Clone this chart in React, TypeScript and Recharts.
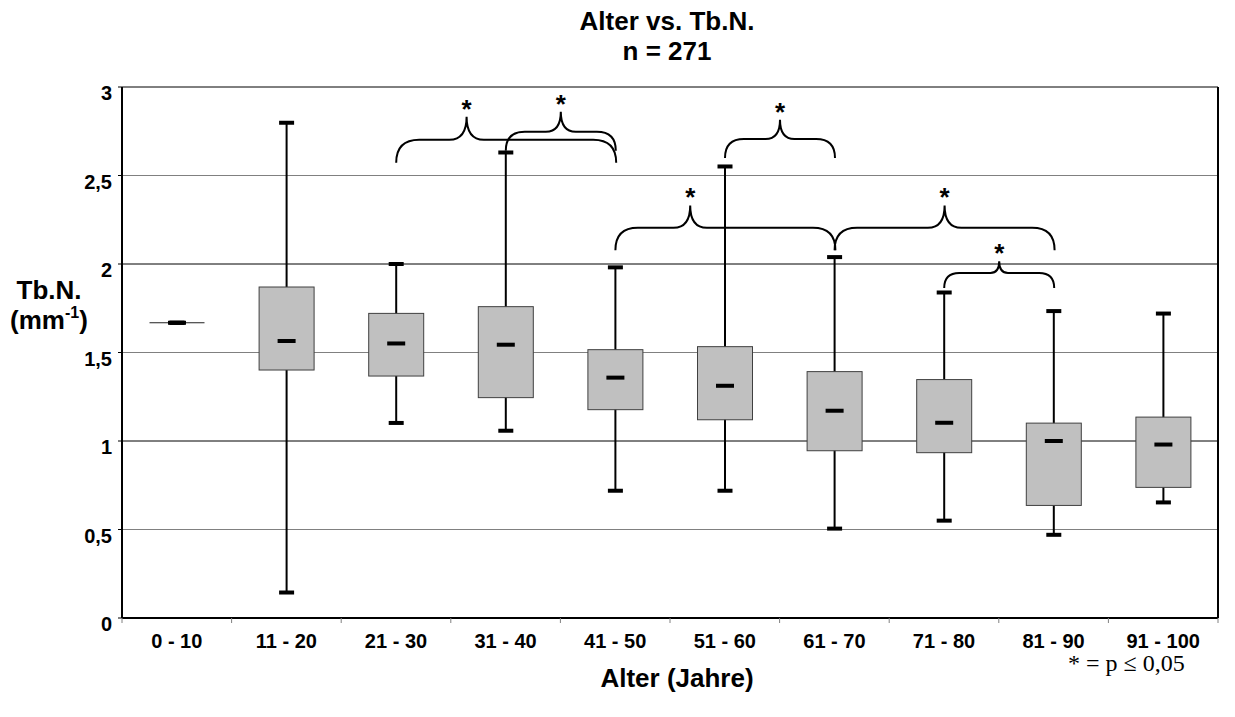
import React from 'react';
import { ComposedChart, Bar, XAxis, YAxis, CartesianGrid } from 'recharts';

// ─── Data ─────────────────────────────────────────────────────────────────────

const groups = ['0 - 10', '11 - 20', '21 - 30', '31 - 40', '41 - 50', '51 - 60', '61 - 70', '71 - 80', '81 - 90', '91 - 100'];
const mins    = [1.668, 0.144, 1.102, 1.058, 0.719, 0.719, 0.505, 0.55, 0.47, 0.653];
const q1s     = [1.668, 1.401, 1.367, 1.245, 1.177, 1.12, 0.945, 0.934, 0.636, 0.738];
const medians = [1.668, 1.565, 1.551, 1.544, 1.358, 1.312, 1.171, 1.103, 1.0, 0.98];
const q3s     = [1.668, 1.87, 1.721, 1.759, 1.516, 1.533, 1.392, 1.347, 1.101, 1.135];
const maxs    = [1.668, 2.798, 2.0, 2.63, 1.981, 2.551, 2.039, 1.839, 1.734, 1.72];

const yTicks = [0, 0.5, 1, 1.5, 2, 2.5, 3];

// significance braces: end = tips of the brace, level = its bar, peak = its point
const brackets = [
  { from: '21 - 30', to: '41 - 50', end: 2.572, level: 2.702, peak: 2.832, peakAt: 0.32 },
  { from: '31 - 40', to: '41 - 50', end: 2.64, level: 2.747, peak: 2.86, peakAt: 0.5 },
  { from: '51 - 60', to: '61 - 70', end: 2.599, level: 2.706, peak: 2.815, peakAt: 0.5 },
  { from: '41 - 50', to: '61 - 70', end: 2.078, level: 2.205, peak: 2.331, peakAt: 0.34 },
  { from: '61 - 70', to: '81 - 90', end: 2.078, level: 2.205, peak: 2.331, peakAt: 0.5 },
  { from: '71 - 80', to: '81 - 90', end: 1.864, level: 1.949, peak: 2.015, peakAt: 0.5 },
];

const data = groups.map((group, i) => ({
  group,
  min: mins[i],
  q1: q1s[i],
  median: medians[i],
  q3: q3s[i],
  max: maxs[i],
  span: [mins[i], maxs[i]],
}));

const SANS = '"Liberation Sans", Arial, sans-serif';
const SERIF = '"Liberation Serif", "Times New Roman", serif';

// ─── Box + braces drawn per category ──────────────────────────────────────────

function BoxShape(props: any) {
  const { x, y, width, height, payload } = props;
  const { min, q1, median, q3, max, group } = payload;
  const px = (v: number) => (height > 0 ? y + ((max - v) / (max - min)) * height : y);
  const cx = x + width / 2;
  const bw = width * 0.5;
  const capW = 15;
  const medW = 18;
  const from = groups.indexOf(group);

  return (
    <g>
      <line x1={cx} y1={px(max)} x2={cx} y2={px(min)} stroke="#000" strokeWidth={2} />
      <rect x={cx - capW / 2} y={px(max) - 2} width={capW} height={4} fill="#000" />
      <rect x={cx - capW / 2} y={px(min) - 2} width={capW} height={4} fill="#000" />
      {q3 > q1 ? (
        <rect x={cx - bw / 2} y={px(q3)} width={bw} height={px(q1) - px(q3)} fill="#C0C0C0" stroke="#404040" strokeWidth={1} />
      ) : (
        <line x1={cx - bw / 2} y1={px(q1)} x2={cx + bw / 2} y2={px(q1)} stroke="#202020" strokeWidth={1} />
      )}
      <rect x={cx - medW / 2} y={px(median) - 2} width={medW} height={4} fill="#000" />

      {brackets.filter(b => b.from === group).map((b, k) => {
        const xL = cx;
        const xR = cx + (groups.indexOf(b.to) - from) * width;
        const xP = xL + (xR - xL) * b.peakAt;
        const yE = px(b.end);
        const yM = px(b.level);
        const yP = px(b.peak);
        const r = yE - yM;
        const pw = (yM - yP) * 0.75;
        const d = [
          `M${xL},${yE}`,
          `Q${xL},${yM} ${xL + r},${yM}`,
          `L${xP - pw},${yM}`,
          `Q${xP},${yM} ${xP},${yP}`,
          `Q${xP},${yM} ${xP + pw},${yM}`,
          `L${xR - r},${yM}`,
          `Q${xR},${yM} ${xR},${yE}`,
        ].join(' ');
        return (
          <g key={k}>
            <path d={d} fill="none" stroke="#000" strokeWidth={2} />
            <text x={xP} y={yP + 1} textAnchor="middle" fontFamily={SANS} fontWeight="bold" fontSize={26} fill="#000">*</text>
          </g>
        );
      })}
    </g>
  );
}

// ─── Axis ticks and title ─────────────────────────────────────────────────────

function XTick(props: any) {
  const { x, y, payload, index, visibleTicksCount } = props;
  const half = payload?.offset ?? 0;
  const axisY = y - 7;
  return (
    <g>
      {half > 0 && <line x1={x - half} y1={axisY} x2={x - half} y2={axisY + 5} stroke="#808080" />}
      {half > 0 && index === visibleTicksCount - 1 && (
        <line x1={x + half} y1={axisY} x2={x + half} y2={axisY + 5} stroke="#808080" />
      )}
      <text x={x} y={y} dy={23} textAnchor="middle" fontFamily={SANS} fontWeight="bold" fontSize={20} fill="#000">
        {payload.value}
      </text>
    </g>
  );
}

function YTick(props: any) {
  const { x, y, payload } = props;
  return (
    <text x={x} y={y} dy={13} textAnchor="end" fontFamily={SANS} fontWeight="bold" fontSize={20} fill="#000">
      {String(payload.value).replace('.', ',')}
    </text>
  );
}

function YTitle(props: any) {
  const vb = props.viewBox ?? { x: 0, y: 87, width: 122, height: 531 };
  const cx = vb.x + 49;
  const cy = vb.y + vb.height / 2;
  return (
    <g fontFamily={SANS} fontWeight="bold" fontSize={26} fill="#000">
      <text x={cx} y={cy - 54} textAnchor="middle">Tb.N.</text>
      <text x={cx} y={cy - 24} textAnchor="middle">
        (mm<tspan dy={-11} fontSize={16}>-1</tspan><tspan dy={11}>)</tspan>
      </text>
    </g>
  );
}

function GridLine(p: any) {
  return (
    <line
      key={`h-${p.index}`}
      x1={p.x1}
      y1={p.y1}
      x2={p.x2}
      y2={p.y2}
      stroke={p.index % 2 === 0 ? '#000' : '#808080'}
      strokeWidth={1}
    />
  );
}

// ─── Component ────────────────────────────────────────────────────────────────

export default function App() {
  return (
    <div style={{ position: 'absolute', left: 0, top: 0, width: 1235, height: 717, background: '#fff' }}>
      <div
        style={{
          position: 'absolute', left: 667, top: 5.5, transform: 'translateX(-50%)',
          fontFamily: SANS, fontWeight: 'bold', fontSize: 26, lineHeight: '30px',
          textAlign: 'center', whiteSpace: 'nowrap',
        }}
      >
        Alter vs. Tb.N.<br />n = 271
      </div>

      <ComposedChart
        width={1235}
        height={717}
        data={data}
        margin={{ top: 87, right: 15, bottom: 0, left: 0 }}
        barCategoryGap={0}
      >
        <CartesianGrid vertical={false} horizontal={GridLine} />
        <XAxis
          dataKey="group"
          height={99}
          interval={0}
          axisLine={{ stroke: '#000', strokeWidth: 2 }}
          tickLine={false}
          tickSize={5}
          tickMargin={2}
          tick={<XTick />}
        />
        <YAxis
          domain={[0, 3]}
          ticks={yTicks}
          width={122}
          axisLine={{ stroke: '#000', strokeWidth: 2 }}
          tickLine={{ stroke: '#000' }}
          tickSize={4}
          tickMargin={6}
          tick={<YTick />}
          label={<YTitle />}
        />
        <YAxis
          yAxisId="r"
          orientation="right"
          domain={[0, 3]}
          width={2}
          tick={false}
          tickLine={false}
          axisLine={{ stroke: '#000', strokeWidth: 2 }}
        />
        <Bar dataKey="span" shape={<BoxShape />} isAnimationActive={false} activeBar={false} />
      </ComposedChart>

      <div
        style={{
          position: 'absolute', left: 677, top: 663, transform: 'translateX(-50%)',
          fontFamily: SANS, fontWeight: 'bold', fontSize: 26, lineHeight: '30px', whiteSpace: 'nowrap',
        }}
      >
        Alter (Jahre)
      </div>
      <div
        style={{
          position: 'absolute', left: 1068, top: 648,
          fontFamily: SERIF, fontSize: 24, lineHeight: '30px', whiteSpace: 'nowrap',
        }}
      >
        * = p ≤ 0,05
      </div>
    </div>
  );
}
